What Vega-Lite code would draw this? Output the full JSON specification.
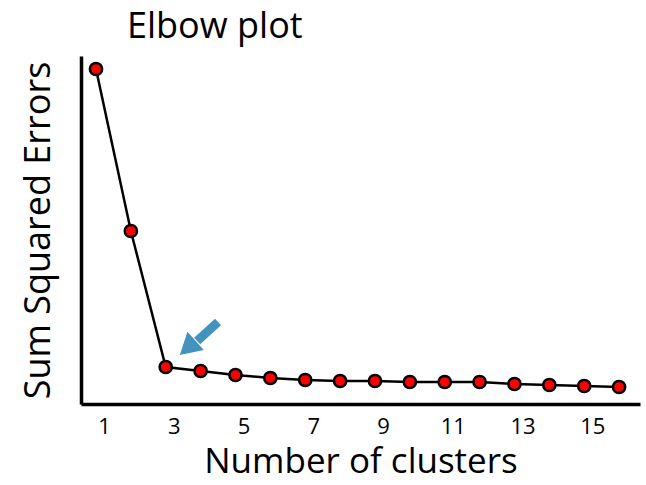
{
  "$schema": "https://vega.github.io/schema/vega-lite/v6.json",
  "autosize": "none",
  "width": 559,
  "height": 348,
  "padding": {"left": 81, "top": 56, "right": 6, "bottom": 81},
  "background": "white",
  "config": {"view": {"stroke": null}, "font": "Open Sans"},
  "title": {"text": "Elbow plot", "anchor": "start", "frame": "group", "dx": 46, "offset": 10, "fontSize": 36, "fontWeight": "normal", "font": "Open Sans", "color": "black"},
  "datasets": {
    "sse": [
      {"k": 1, "sse": 335}, {"k": 2, "sse": 173}, {"k": 3, "sse": 37}, {"k": 4, "sse": 33},
      {"k": 5, "sse": 29}, {"k": 6, "sse": 26}, {"k": 7, "sse": 24}, {"k": 8, "sse": 23},
      {"k": 9, "sse": 23}, {"k": 10, "sse": 22}, {"k": 11, "sse": 22}, {"k": 12, "sse": 22},
      {"k": 13, "sse": 20}, {"k": 14, "sse": 19}, {"k": 15, "sse": 18}, {"k": 16, "sse": 17}
    ],
    "arrow": [{"x": 4.5, "y": 82, "x2": 3.9, "y2": 63, "hx": 3.63, "hy": 56}]
  },
  "layer": [
    {
      "data": {"name": "sse"},
      "mark": {"type": "line", "color": "black", "strokeWidth": 2.5},
      "encoding": {
        "x": {"field": "k", "type": "quantitative", "scale": {"domain": [0.57, 16.6], "nice": false, "zero": false},
          "axis": {"values": [1, 3, 5, 7, 9, 11, 13, 15], "title": "Number of clusters", "grid": false, "ticks": false,
            "domainColor": "black", "domainWidth": 3.5, "labelFontSize": 22, "labelColor": "black", "labelPadding": 12, "labelOffset": 8,
            "titleFontSize": 35, "titleFontWeight": "normal", "titleColor": "black", "titlePadding": 7}},
        "y": {"field": "sse", "type": "quantitative", "scale": {"domain": [0, 348], "nice": false},
          "axis": {"title": "Sum Squared Errors", "grid": false, "ticks": false, "labels": false,
            "domainColor": "black", "domainWidth": 3.5, "titleFontSize": 36, "titleFontWeight": "normal", "titleColor": "black", "titlePadding": 24}}
      }
    },
    {
      "data": {"name": "sse"},
      "mark": {"type": "point", "filled": true, "fill": "#ff0000", "stroke": "black", "strokeWidth": 2.5, "size": 150, "opacity": 1},
      "encoding": {
        "x": {"field": "k", "type": "quantitative"},
        "y": {"field": "sse", "type": "quantitative"}
      }
    },
    {
      "data": {"name": "arrow"},
      "mark": {"type": "rule", "color": "#4492be", "strokeWidth": 9, "strokeCap": "butt"},
      "encoding": {
        "x": {"field": "x", "type": "quantitative"},
        "y": {"field": "y", "type": "quantitative"},
        "x2": {"field": "x2"},
        "y2": {"field": "y2"}
      }
    },
    {
      "data": {"name": "arrow"},
      "mark": {"type": "point", "shape": "triangle-up", "filled": true, "color": "#4492be", "size": 600, "angle": 228, "opacity": 1},
      "encoding": {
        "x": {"field": "hx", "type": "quantitative"},
        "y": {"field": "hy", "type": "quantitative"}
      }
    }
  ]
}
